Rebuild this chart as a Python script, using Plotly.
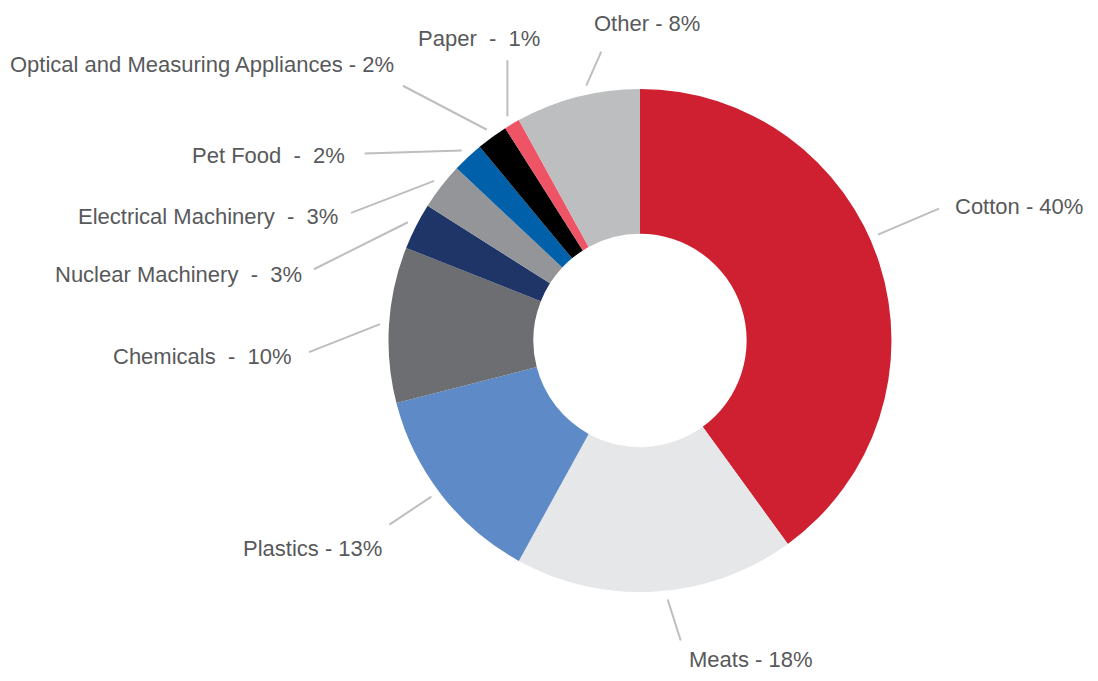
import numpy as np
import plotly.graph_objects as go

# данные
categories = ["Cotton", "Meats", "Plastics", "Chemicals", "Nuclear Machinery",
              "Electrical Machinery", "Pet Food", "Optical and Measuring Appliances",
              "Paper", "Other"]
shares = [40, 18, 13, 10, 3, 3, 2, 2, 1, 8]
colors = ["#CF2032", "#E6E7E8", "#5E8BC7", "#6D6E71", "#1F3568",
          "#939598", "#0060A9", "#000000", "#EE5366", "#BCBEC0"]
wide_gap = {"Chemicals", "Nuclear Machinery", "Electrical Machinery", "Pet Food", "Paper"}

# страница 1098x681, у body отступ 8px -> сам график 1082x665
OFF = 8
W, H = 1098 - 2 * OFF, 681 - 2 * OFF
CX, CY, R = 640, 340.5, 251.5     # в пикселях страницы
HOLE = 0.424
TEXT_COLOR = "#58595B"
LINE_COLOR = "#BCBEC0"
FONT = "Liberation Sans, Arial, sans-serif"

# подписи: сдвиг угла, вектор линии, сдвиг текста от конца линии, привязка
LABEL_STYLE = {
    "Cotton":    dict(shift=-6,   line=(61, -26), text=(14, -2),  xa="left",   ya="middle"),
    "Meats":     dict(shift=-2.5, line=(13, 41),  text=(6, 19),   xa="left",   ya="middle"),
    "Plastics":  dict(shift=1,    line=(-42, 28), text=(-5, 24),  xa="right",  ya="middle"),
    "Chemicals": dict(shift=0,    line=(-71, 28), text=(-15, 4),  xa="right",  ya="middle"),
    "Nuclear Machinery":    dict(shift=0, line=(-94, 47), text=(-10, 5), xa="right", ya="middle"),
    "Electrical Machinery": dict(shift=0, line=(-83, 32), text=(-11, 4), xa="right", ya="middle"),
    "Pet Food":  dict(shift=0,    line=(-97, 3),  text=(-18, 2),  xa="right",  ya="middle"),
    "Optical and Measuring Appliances": dict(shift=0, line=(-84, -44), text=(-7, -21),
                                             xa="right", ya="middle"),
    "Paper":     dict(shift=0,    line=(0, -56),  text=(-28, -22), xa="center", ya="middle"),
    "Other":     dict(shift=2.5,  line=(15, -34), text=(-9, -28), xa="left",   ya="middle"),
}

fig = go.Figure()

fig.add_trace(go.Pie(
    labels=categories,
    values=shares,
    sort=False,
    direction="clockwise",
    rotation=0,
    hole=HOLE,
    marker=dict(colors=colors, line=dict(width=0)),
    textinfo="none",
    showlegend=False,
    domain=dict(x=[(CX - R - OFF) / W, (CX + R - OFF) / W],
                y=[1 - (CY + R - OFF) / H, 1 - (CY - R - OFF) / H]),
))

# выноски
total = sum(shares)
cum = np.cumsum([0] + shares[:-1])
for name, val, c0 in zip(categories, shares, cum):
    st = LABEL_STYLE[name]
    ang = np.deg2rad((c0 + val / 2) / total * 360 + st["shift"])
    r0 = R + 9
    x0 = CX + r0 * np.sin(ang)
    y0 = CY - r0 * np.cos(ang)
    x1 = x0 + st["line"][0]
    y1 = y0 + st["line"][1]
    fig.add_shape(type="line", xref="x", yref="y", x0=x0, y0=y0, x1=x1, y1=y1,
                  line=dict(color=LINE_COLOR, width=2))
    sep = "\u00a0 -\u00a0 " if name in wide_gap else " - "
    fig.add_annotation(
        x=x1 + st["text"][0], y=y1 + st["text"][1], xref="x", yref="y",
        text=f"{name}{sep}{val}%", showarrow=False,
        xanchor=st["xa"], yanchor=st["ya"],
        font=dict(family=FONT, size=22, color=TEXT_COLOR),
    )

fig.update_layout(
    width=W, height=H,
    margin=dict(l=0, r=0, t=0, b=0),
    paper_bgcolor="white",
    plot_bgcolor="white",
    xaxis=dict(range=[OFF, OFF + W], visible=False, fixedrange=True),
    yaxis=dict(range=[OFF + H, OFF], visible=False, fixedrange=True),
)

fig.write_html("out.html")
